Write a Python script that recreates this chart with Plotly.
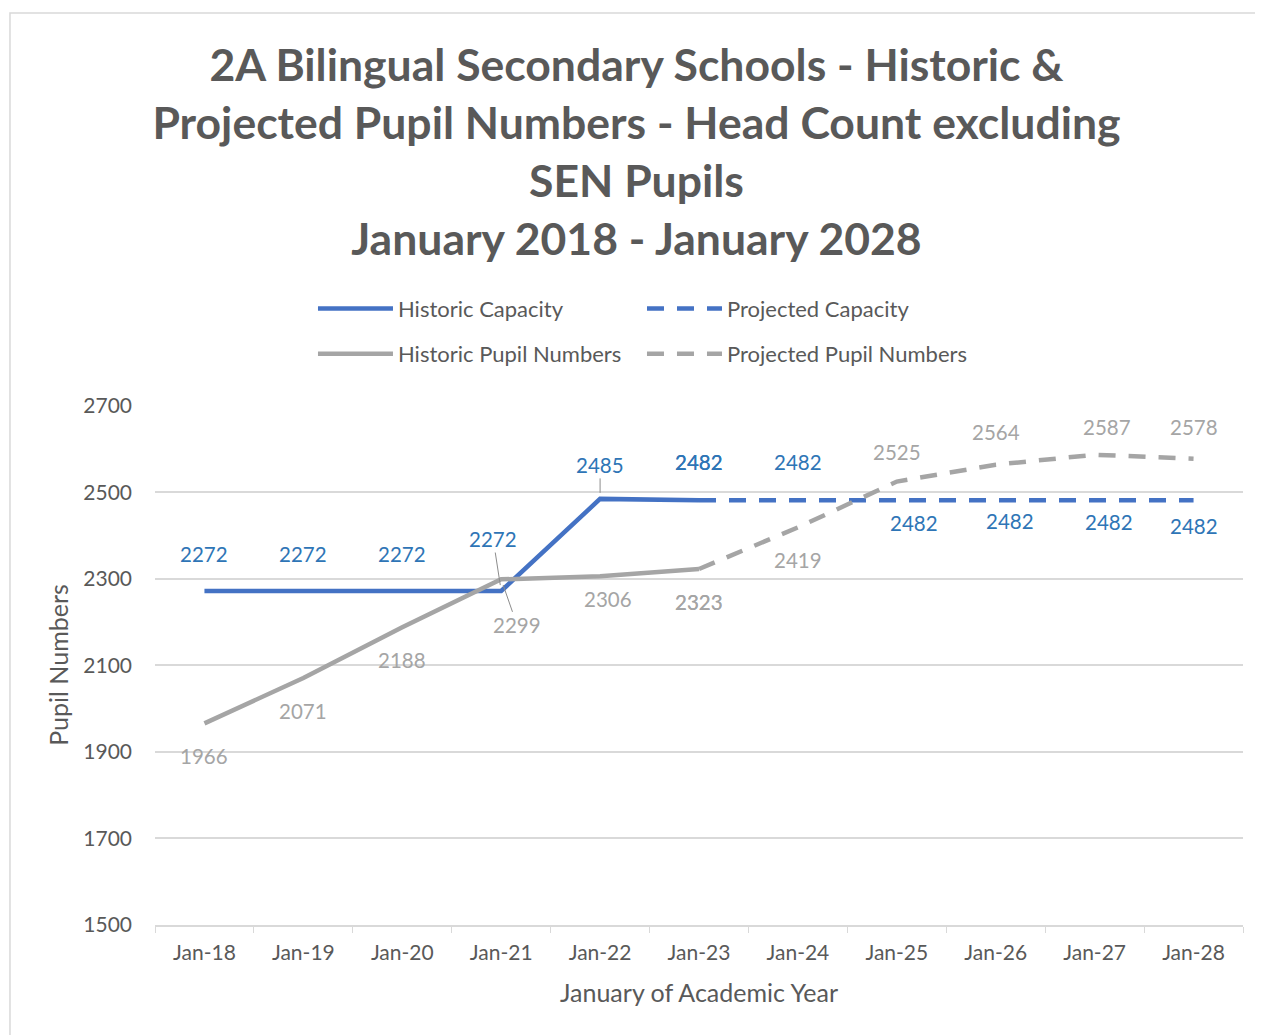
import plotly.graph_objects as go

categories = ["Jan-18", "Jan-19", "Jan-20", "Jan-21", "Jan-22", "Jan-23",
              "Jan-24", "Jan-25", "Jan-26", "Jan-27", "Jan-28"]

hist_cap_x = categories[:6]
hist_cap = [2272, 2272, 2272, 2272, 2485, 2482]
proj_cap_x = categories[5:]
proj_cap = [2482, 2482, 2482, 2482, 2482, 2482]
hist_pup_x = categories[:6]
hist_pup = [1966, 2071, 2188, 2299, 2306, 2323]
proj_pup_x = categories[5:]
proj_pup = [2323, 2419, 2525, 2564, 2587, 2578]

BLUE = "#4472C4"
BLUE_LBL = "#2E75B6"
GREY = "#A5A5A5"
GREY_LBL = "#A5A5A5"
TXT = "#595959"
FONT = "Lato, Noto Sans, sans-serif"
LBL_SIZE = 20.5

fig = go.Figure()
fig.add_trace(go.Scatter(x=hist_cap_x, y=hist_cap, mode="lines", name="Historic Capacity",
                         line=dict(color=BLUE, width=4.5), legend="legend"))
fig.add_trace(go.Scatter(x=proj_cap_x, y=proj_cap, mode="lines", name="Projected Capacity",
                         line=dict(color=BLUE, width=4.5, dash="17px,13px"), legend="legend"))
fig.add_trace(go.Scatter(x=hist_pup_x, y=hist_pup, mode="lines", name="Historic Pupil Numbers",
                         line=dict(color=GREY, width=4.5), legend="legend2"))
fig.add_trace(go.Scatter(x=proj_pup_x, y=proj_pup, mode="lines", name="Projected Pupil Numbers",
                         line=dict(color=GREY, width=4.5, dash="17px,13px"), legend="legend2"))

annotations = []

# label offsets (pixels): (dx, dy) — positive dy is up; None = leader-lined label
hist_cap_off = [(0, 37), (0, 37), (0, 37), None, None, (0, 38)]
proj_cap_off = [(0, 38), (0, 38), (17, -23), (14, -21), (14, -22), (0, -26)]
hist_pup_off = [(0, -33), (0, -33), (0, -33), None, (8, -23), (0, -33)]
proj_pup_off = [(0, -33), (0, -33), (0, 30), (0, 33), (12, 28), (0, 32)]

for xs, ys, col, offs in [(hist_cap_x, hist_cap, BLUE_LBL, hist_cap_off),
                          (proj_cap_x, proj_cap, BLUE_LBL, proj_cap_off),
                          (hist_pup_x, hist_pup, GREY_LBL, hist_pup_off),
                          (proj_pup_x, proj_pup, GREY_LBL, proj_pup_off)]:
    for xv, yv, off in zip(xs, ys, offs):
        if off is None:
            continue
        annotations.append(dict(x=xv, y=yv, text=str(yv), showarrow=False,
                                xshift=off[0], yshift=off[1],
                                font=dict(family=FONT, size=LBL_SIZE, color=col)))

# Leader-lined labels
leader = dict(showarrow=True, arrowhead=0, arrowwidth=1, arrowcolor="#8C8C8C", standoff=6)
annotations.append(dict(x=hist_cap_x[3], y=hist_cap[3], text=str(hist_cap[3]), ax=-8, ay=-52,
                        font=dict(family=FONT, size=LBL_SIZE, color=BLUE_LBL), **leader))
annotations.append(dict(x=hist_cap_x[4], y=hist_cap[4], text=str(hist_cap[4]), ax=0, ay=-34,
                        font=dict(family=FONT, size=LBL_SIZE, color=BLUE_LBL), **leader))
annotations.append(dict(x=hist_pup_x[3], y=hist_pup[3], text=str(hist_pup[3]), ax=16, ay=46,
                        font=dict(family=FONT, size=LBL_SIZE, color=GREY_LBL), **leader))

# Chart-area border
shapes = [dict(type="rect", xref="paper", yref="paper", x0=-0.1333, x1=1.1, y0=-0.5, y1=1.754,
               line=dict(color="#D9D9D9", width=1.5), fillcolor="rgba(0,0,0,0)", layer="below")]

# the page body adds an 8px offset; margins compensate so the plot area lands at (155..1243, 405..925)
fig.update_layout(
    width=1263, height=1035,
    paper_bgcolor="white", plot_bgcolor="white",
    margin=dict(l=147, r=28, t=397, b=118, autoexpand=False),
    font=dict(family=FONT, color=TXT, size=20),
    title=dict(text="2A Bilingual Secondary Schools - Historic &<br>Projected Pupil Numbers - Head Count excluding<br>SEN Pupils<br>January 2018 - January 2028",
               x=0.4976, xanchor="center", y=1 - 73 / 1035, yanchor="middle",
               font=dict(family=FONT, size=44.5, color=TXT, weight="bold")),
    xaxis=dict(type="category", categoryorder="array", categoryarray=categories,
               range=[-0.5, 10.5],
               showline=True, linecolor="#D9D9D9", linewidth=1.5,
               ticks="outside", tickson="boundaries", ticklen=6, tickcolor="#D9D9D9",
               ticklabelstandoff=8,
               showgrid=False, tickfont=dict(size=21, color=TXT),
               title=dict(text="January of Academic Year", font=dict(size=25, color=TXT), standoff=22)),
    yaxis=dict(range=[1500, 2702], tick0=1500, dtick=200, showgrid=True, gridcolor="#D9D9D9", gridwidth=1.5,
               zeroline=False, showline=False, tickfont=dict(size=21, color=TXT), ticks="",
               ticklabelstandoff=22,
               title=dict(text="Pupil Numbers", font=dict(size=25, color=TXT), standoff=7)),
    legend=dict(orientation="h", x=0.1452, xanchor="left", y=1.185, yanchor="middle",
                entrywidth=239, entrywidthmode="pixels", itemwidth=75,
                font=dict(size=22, color=TXT), bgcolor="rgba(0,0,0,0)"),
    legend2=dict(orientation="h", x=0.1452, xanchor="left", y=1.098, yanchor="middle",
                 entrywidth=239, entrywidthmode="pixels", itemwidth=75,
                 font=dict(size=22, color=TXT), bgcolor="rgba(0,0,0,0)"),
    annotations=annotations,
    shapes=shapes,
)

fig.write_html("out.html")
